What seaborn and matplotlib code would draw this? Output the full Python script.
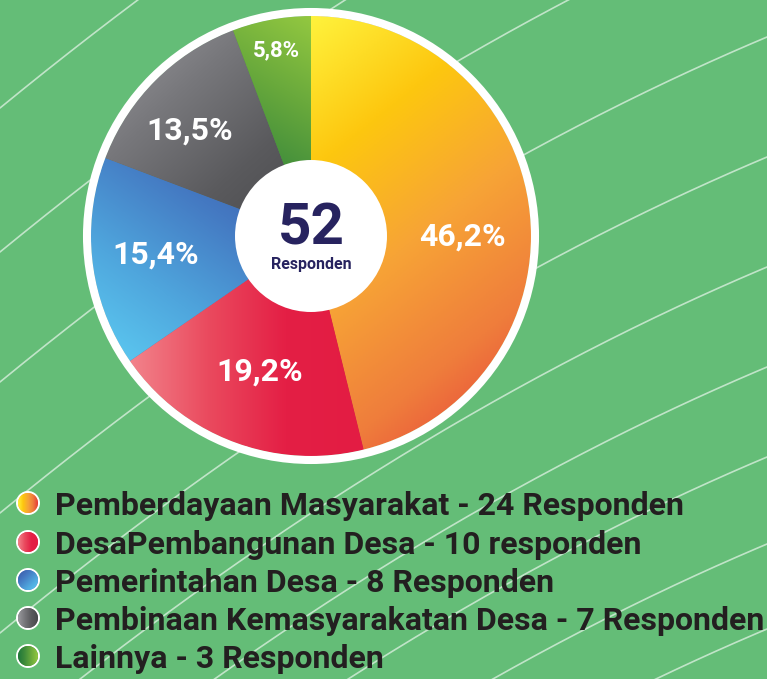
"""
Donut chart: bidang responden (52 responden)
"""

import numpy as np
import matplotlib
matplotlib.use('Agg')
import matplotlib.pyplot as plt
from matplotlib.colors import LinearSegmentedColormap
from matplotlib.patches import Circle
import seaborn as sns

# data
categories = ['Pemberdayaan Masyarakat', 'DesaPembangunan Desa', 'Pemerintahan Desa',
              'Pembinaan Kemasyarakatan Desa', 'Lainnya']
counts = [24, 10, 8, 7, 3]
unit_words = ['Responden', 'responden', 'Responden', 'Responden', 'Responden']

# gradient stops and directions (data coords, y up) per slice
gradients = [
    ['#fff23c', '#fdc70f', '#f7a436', '#ef7d3c', '#e6393a'],
    ['#f2838b', '#ea4a5e', '#e41f45', '#e31c43'],
    ['#5dcdf3', '#4fa6dd', '#4479c2', '#3a56a6'],
    ['#9a9a9e', '#77777b', '#5a5a5d', '#48484b'],
    ['#93c840', '#6aaa3c', '#3f8c3b', '#1f763a'],
]
directions = [(0.8, -1.0), (1.0, 0.0), (0.7, 1.0), (1.0, -1.1), (-1.0, -1.6)]
dot_directions = [(1.0, 0.0), (1.0, 0.0), (-1.0, 1.0), (1.0, 0.0), (-1.0, 0.0)]
label_dist = [0.69, 0.66, 0.71, 0.73, 0.86]
label_shift = [-7, 0, 0, 4, 0]
label_size = [23, 23, 23, 23, 16]

BG = '#64bd77'
W, H = 767, 679
CX, CY, R = 311, 443, 220

sns.set_theme(style='white')
plt.rcParams['font.family'] = ['Roboto', 'DejaVu Sans']

fig = plt.figure(figsize=(W / 100, H / 100), dpi=100)
fig.patch.set_facecolor(BG)
ax = fig.add_axes([0, 0, 1, 1])
ax.set_facecolor(BG)


def gradient_fill(ax, patch, colors, direction, zorder):
    """Paint a linear gradient clipped to a patch"""
    ext = patch.get_path().get_extents(patch.get_patch_transform())
    x0, y0, x1, y1 = ext.x0, ext.y0, ext.x1, ext.y1
    n = 200
    xx, yy = np.meshgrid(np.linspace(0, 1, n), np.linspace(0, 1, n))
    dx, dy = direction
    t = xx * dx * (x1 - x0) + yy * dy * (y1 - y0)
    t = (t - t.min()) / (t.max() - t.min())
    cmap = LinearSegmentedColormap.from_list('g', colors)
    im = ax.imshow(t, cmap=cmap, origin='lower', extent=(x0, x1, y0, y1),
                   interpolation='bilinear', zorder=zorder, aspect='auto')
    im.set_clip_path(patch)
    return im


# decorative background curves
xs = np.linspace(0, W, 300)
for off in [-40, 108, 252, 382, 513, 633, 743, 843, 933, 1020, 1105]:
    y_img = off - (0.82 * xs - 0.00026 * xs ** 2)
    ax.plot(xs, H - y_img, color='white', alpha=0.6, lw=1.2, zorder=0)

wedges, _ = ax.pie(counts, startangle=90, counterclock=False, radius=R,
                   center=(CX, CY), colors=[g[2] for g in gradients],
                   wedgeprops=dict(linewidth=0), frame=False)
for w, g, d in zip(wedges, gradients, directions):
    w.set_zorder(2)
    gradient_fill(ax, w, g, d, zorder=3)

ax.add_patch(Circle((CX, CY), R + 4, fill=False, ec='white', lw=5.8, zorder=4))
ax.add_patch(Circle((CX, CY), 76, fc='white', ec='none', zorder=5))

total = sum(counts)
for w, c, f, sh, s in zip(wedges, counts, label_dist, label_shift, label_size):
    ang = np.deg2rad((w.theta1 + w.theta2) / 2 + sh)
    pct = f"{c / total * 100:.1f}%".replace('.', ',')
    ax.text(CX + f * R * np.cos(ang), CY + f * R * np.sin(ang), pct,
            color='white', fontsize=s, fontweight='bold',
            ha='center', va='center', zorder=6)

ax.text(CX, CY + 7, str(total), color='#27235f', fontsize=42, fontweight='bold',
        ha='center', va='center', zorder=6)
ax.text(CX, CY - 28, 'Responden', color='#27235f', fontsize=11.5, fontweight='bold',
        ha='center', va='center', zorder=6)

# legend
row_base = [515, 554, 592, 630, 668]
for i, (cat, c, u, g) in enumerate(zip(categories, counts, unit_words, gradients)):
    yc = H - (row_base[i] - 12)
    ax.add_patch(Circle((28, yc), 12, fc='white', ec='none', zorder=6))
    dot = Circle((28, yc), 10, fc=g[2], ec='none', zorder=7)
    ax.add_patch(dot)
    gradient_fill(ax, dot, g, dot_directions[i], zorder=8)
    ax.text(55, H - row_base[i], f"{cat} - {c} {u}", color='#231f20', fontsize=23,
            fontweight='bold', ha='left', va='baseline', zorder=6)

ax.set_xlim(0, W)
ax.set_ylim(0, H)
ax.set_aspect('equal')
ax.axis('off')

fig.savefig('out.png', dpi=100, facecolor=BG)
